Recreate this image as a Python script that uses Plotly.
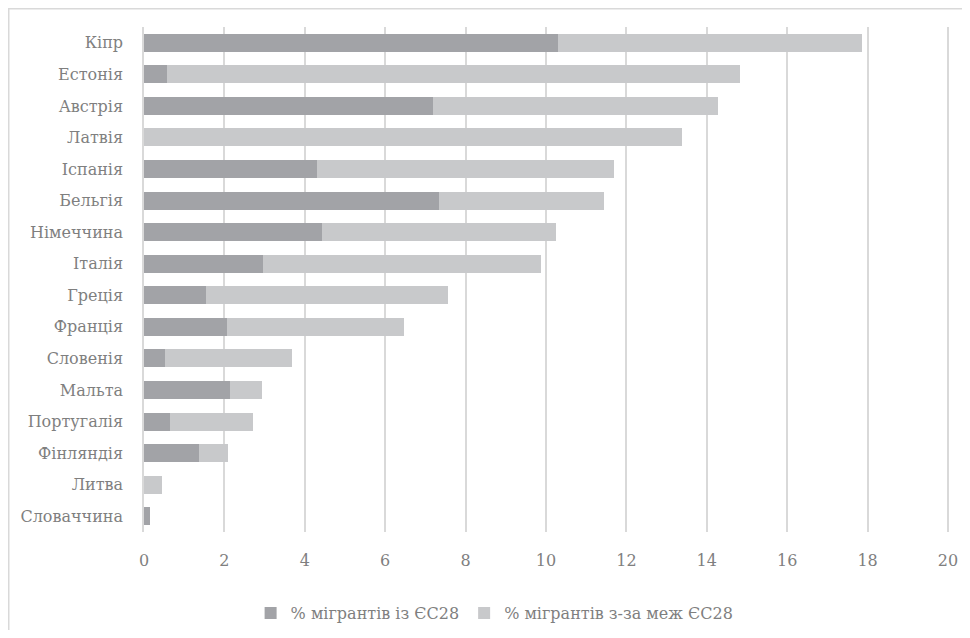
import plotly.graph_objects as go

countries = ["Кіпр", "Естонія", "Австрія", "Латвія", "Іспанія", "Бельгія", "Німеччина",
             "Італія", "Греція", "Франція", "Словенія", "Мальта", "Португалія",
             "Фінляндія", "Литва", "Словаччина"]
eu28 = [10.30, 0.57, 7.20, 0.0, 4.31, 7.35, 4.44, 2.96, 1.53, 2.07, 0.52, 2.15, 0.64, 1.36, 0.0, 0.15]
total = [17.86, 14.83, 14.28, 13.39, 11.69, 11.44, 10.25, 9.88, 7.57, 6.48, 3.67, 2.93, 2.70, 2.09, 0.44, 0.15]
non_eu = [round(t - e, 2) for t, e in zip(total, eu28)]
x_ticks = [0, 2, 4, 6, 8, 10, 12, 14, 16, 18, 20]

FONT = "DejaVu Serif"
TXT = "#7f7f7f"

fig = go.Figure()
fig.add_trace(go.Bar(y=countries, x=eu28, orientation="h", name="% мігрантів із ЄС28",
                     marker=dict(color="#a2a3a7", line=dict(width=0))))
fig.add_trace(go.Bar(y=countries, x=non_eu, orientation="h", name="% мігрантів з-за меж ЄС28",
                     marker=dict(color="#c8c9cb", line=dict(width=0))))

W, H = 962, 622
L, R, T, B = 136, 20, 19, 98
pw, ph = W - L - R, H - T - B

def px(fx):
    return (fx - L) / pw

def py(fy):
    return (H - B - fy) / ph

fig.update_layout(
    barmode="stack",
    bargap=0.43,
    width=W, height=H,
    margin=dict(l=L, r=R, t=T, b=B, autoexpand=False),
    paper_bgcolor="white", plot_bgcolor="white",
    font=dict(family=FONT, size=16, color=TXT),
    showlegend=True,
    legend=dict(orientation="h", x=0.435, xanchor="center",
                yref="container", y=1 - 605 / H, yanchor="middle",
                font=dict(family=FONT, size=16, color=TXT), traceorder="normal",
                itemwidth=30),
    xaxis=dict(range=[0, 20.05], tickvals=x_ticks, showgrid=True, gridcolor="#d9d9d9", gridwidth=1.5,
               zeroline=False, showline=False, ticks="", ticklabelstandoff=17, automargin=False,
               ticklabeloverflow="allow",
               tickfont=dict(family=FONT, size=16, color=TXT)),
    yaxis=dict(categoryorder="array", categoryarray=countries[::-1], showgrid=False,
               zeroline=False, showline=True, linecolor="#d9d9d9", linewidth=1.5,
               ticks="", ticklabelstandoff=16, automargin=False,
               tickfont=dict(family=FONT, size=16, color=TXT)),
    shapes=[
        dict(type="line", xref="paper", yref="paper", x0=px(0), x1=px(W + 5), y0=py(0), y1=py(0),
             line=dict(color="#d9d9d9", width=3), layer="below"),
        dict(type="line", xref="paper", yref="paper", x0=px(0), x1=px(0), y0=py(0), y1=py(H + 5),
             line=dict(color="#d9d9d9", width=3), layer="below"),
    ],
)

fig.write_html("out.html")
